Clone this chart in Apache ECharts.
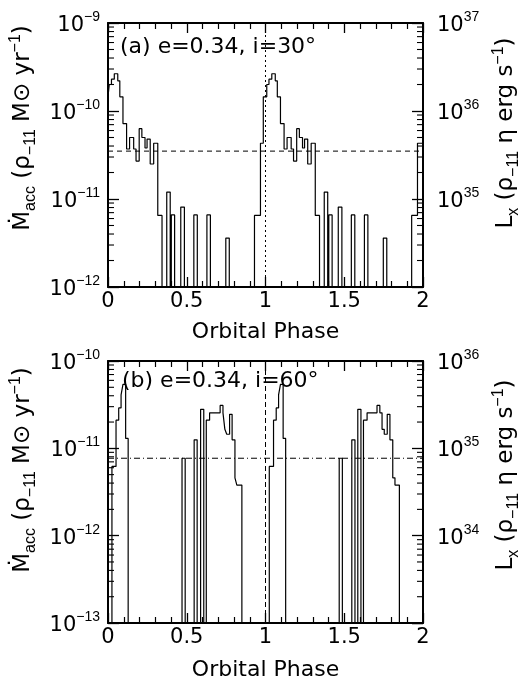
<!DOCTYPE html>
<html><head><meta charset="utf-8">
<script src="https://cdn.jsdelivr.net/npm/echarts@6/dist/echarts.min.js"></script>
<style>html,body{margin:0;padding:0;background:#fff}#c{width:520px;height:681px}</style>
</head><body><div id="c"></div>
<script>
// ---------- data ----------
// panel (a): histogram bin start phase and accretion rate (Msun/yr per rho_-11); 0 = empty bin
const phaseA = [
  0.000, 0.008, 0.022, 0.040, 0.062, 0.075, 0.095, 0.118, 0.137, 0.163, 0.178, 0.198, 0.215, 0.235, 0.248, 0.268, 0.290, 0.316, 0.343,
  0.373, 0.395, 0.402, 0.423, 0.462, 0.485, 0.545, 0.567, 0.628, 0.650, 0.748, 0.770,
  0.930, 0.968, 0.986,
  1.008, 1.022, 1.040, 1.062, 1.075, 1.095, 1.118, 1.137, 1.163, 1.178, 1.198, 1.215, 1.235, 1.248, 1.268, 1.290, 1.316, 1.343,
  1.373, 1.395, 1.402, 1.423, 1.462, 1.485, 1.545, 1.567, 1.628, 1.650, 1.748, 1.770,
  1.928, 1.965, 2.000
];
const mdotA = [
  1.45e-10, 2.0e-10, 2.3e-10, 2.65e-10, 2.2e-10, 1.45e-10, 7.2e-11, 3.7e-11, 5.0e-11, 3.7e-11, 2.7e-11, 6.3e-11, 5.0e-11, 3.8e-11, 4.8e-11, 2.5e-11, 4.3e-11, 6.5e-12, 0,
  1.2e-11, 0, 6.6e-12, 0, 8.1e-12, 0, 6.6e-12, 0, 6.6e-12, 0, 3.6e-12, 0,
  6.5e-12, 4.3e-11, 1.45e-10,
  2.0e-10, 2.3e-10, 2.65e-10, 2.2e-10, 1.45e-10, 7.2e-11, 3.7e-11, 5.0e-11, 3.7e-11, 2.7e-11, 6.3e-11, 5.0e-11, 3.8e-11, 4.8e-11, 2.5e-11, 4.3e-11, 6.5e-12, 0,
  1.2e-11, 0, 6.6e-12, 0, 8.1e-12, 0, 6.6e-12, 0, 6.6e-12, 0, 3.6e-12, 0,
  6.5e-12, 4.3e-11, 4.3e-11
];
// panel (b)
const phaseB = [
  0.000, 0.025, 0.051, 0.068, 0.083, 0.095, 0.112, 0.128,
  0.470, 0.490, 0.547, 0.566, 0.588, 0.608, 0.624, 0.645, 0.712, 0.730, 0.742, 0.754, 0.772, 0.788, 0.806, 0.818, 0.850,
  1.024, 1.051, 1.068, 1.083, 1.095, 1.112, 1.128,
  1.468, 1.488, 1.548, 1.568, 1.586, 1.606, 1.622, 1.645, 1.708, 1.726, 1.740, 1.754, 1.773, 1.790, 1.808, 1.822, 1.850,
  2.000
];
const mdotB = [
  0, 6.2e-12, 2.1e-11, 2.9e-11, 4.1e-11, 5.4e-11, 1.3e-11, 0,
  7.7e-12, 0, 1.25e-11, 0, 2.8e-11, 0, 2.1e-11, 2.55e-11, 3.1e-11, 2.55e-11, 1.65e-11, 1.45e-11, 2.45e-11, 1.25e-11, 4.6e-12, 3.8e-12, 0,
  6.2e-12, 2.1e-11, 2.9e-11, 4.1e-11, 5.4e-11, 1.3e-11, 0,
  7.7e-12, 0, 1.25e-11, 0, 2.8e-11, 0, 2.1e-11, 2.55e-11, 3.1e-11, 2.55e-11, 1.65e-11, 1.45e-11, 2.45e-11, 1.25e-11, 4.6e-12, 3.8e-12, 0,
  0
];
const meanA = 3.5e-11;
const meanB = 7.7e-12;
const periastron = 1;
const phaseRange = [0, 2];
const leftRangeA = [1e-12, 1e-9], rightRangeA = [1e34, 1e37];
const leftRangeB = [1e-13, 1e-10], rightRangeB = [1e33, 1e36];
const titleA = '(a) e=0.34, i=30°';
const titleB = '(b) e=0.34, i=60°';
const xName = 'Orbital Phase';

// ---------- drawing ----------
const FONT = '"DejaVu Sans"';
const TINY = 1e-40; // empty bins fall below the axis and are clipped
function steps(ph, v) { return ph.map((p, i) => [p, v[i] > 0 ? v[i] : TINY]); }
function minorVals(range) {
  const out = [];
  const lo = Math.round(Math.log10(range[0])), hi = Math.round(Math.log10(range[1]));
  for (let e = lo; e < hi; e++) for (let m = 2; m <= 9; m++) out.push([0, m * Math.pow(10, e)]);
  return out;
}
function powLabel(v) {
  const e = Math.round(Math.log10(v));
  return '{b|10}{s|' + (e < 0 ? '\u2212' + (-e) : e) + '}';
}
const labelRich = {
  b: { fontSize: 21, fontFamily: FONT, color: '#000', lineHeight: 26, verticalAlign: 'bottom' },
  s: { fontSize: 14, fontFamily: '"Liberation Sans"', color: '#000', lineHeight: 14, verticalAlign: 'top' }
};
const nameRich = {
  m: { fontSize: 23, fontFamily: FONT, color: '#000', lineHeight: 31, verticalAlign: 'middle' },
  sub: { fontSize: 16, fontFamily: '"Liberation Sans"', color: '#000', verticalAlign: 'bottom' },
  sup: { fontSize: 16, fontFamily: '"Liberation Sans"', color: '#000', verticalAlign: 'top' }
};
const leftName = '{m|\u1E40}{sub|acc}{m| (\u03C1}{sub|\u221211}{m| M\u2299 yr}{sup|\u22121}{m|)}';
const rightName = '{m|L}{sub|x}{m| (\u03C1}{sub|\u221211}{m| \u03B7 erg s}{sup|\u22121}{m|)}';

function axisLine() { return { show: true, onZero: false, lineStyle: { color: '#000', width: 2 } }; }

function xAxisPair(gi, gap) {
  const mk = () => ({
    type: 'value', gridIndex: gi, min: phaseRange[0], max: phaseRange[1], interval: 0.5,
    axisLine: axisLine(),
    axisTick: { show: true, inside: true, length: 10, lineStyle: { color: '#000', width: 1.3 } },
    minorTick: { show: true, splitNumber: 5, length: 6, lineStyle: { color: '#000', width: 1.2 } },
    splitLine: { show: false }, minorSplitLine: { show: false }
  });
  return [
    Object.assign(mk(), {
      position: 'bottom',
      axisLabel: { color: '#000', fontSize: 21, fontFamily: FONT, margin: 4 },
      name: xName, nameLocation: 'middle', nameGap: gap,
      nameTextStyle: { color: '#000', fontSize: 22, fontFamily: FONT }
    }),
    Object.assign(mk(), { position: 'top', axisLabel: { show: false } })
  ];
}
function yAxisPair(gi, lr, rr, lpad, rpad) {
  const mk = () => ({
    type: 'log', logBase: 10, gridIndex: gi,
    axisLine: axisLine(),
    axisTick: { show: true, inside: true, length: 11, lineStyle: { color: '#000', width: 1.3 } },
    splitLine: { show: false },
    nameLocation: 'middle', nameRotate: 90
  });
  return [
    Object.assign(mk(), {
      position: 'left', min: lr[0], max: lr[1],
      axisLabel: { formatter: powLabel, rich: labelRich, margin: 8 },
      name: leftName, nameGap: 54,
      nameTextStyle: { rich: nameRich, padding: [0, 0, 0, lpad] }
    }),
    Object.assign(mk(), {
      position: 'right', min: rr[0], max: rr[1],
      axisLabel: { formatter: v => (Math.log10(v) < Math.log10(rr[0]) + 0.5 ? '' : powLabel(v)), rich: labelRich, margin: 14 },
      name: rightName, nameGap: 64,
      nameTextStyle: { rich: nameRich, padding: [0, 0, 0, rpad] }
    })
  ];
}
function tickSeries(xi, yi, range, side) {
  return {
    type: 'custom', xAxisIndex: xi, yAxisIndex: yi, data: minorVals(range), clip: false,
    encode: { x: 0, y: 1 },
    renderItem(params, api) {
      const cs = params.coordSys;
      const y = api.coord([0, api.value(1)])[1];
      const x0 = side === 'left' ? cs.x : cs.x + cs.width;
      const dx = side === 'left' ? 6 : -6;
      return { type: 'line', shape: { x1: x0, y1: y, x2: x0 + dx, y2: y }, style: { stroke: '#000', lineWidth: 1.1 } };
    }
  };
}
function histSeries(xi, yi, ph, v) {
  return {
    type: 'line', xAxisIndex: xi, yAxisIndex: yi, data: steps(ph, v), step: 'end',
    showSymbol: false, symbol: 'none', clip: true,
    lineStyle: { color: '#000', width: 1.2 }
  };
}
function refLine(xi, yi, pts, dash) {
  return {
    type: 'line', xAxisIndex: xi, yAxisIndex: yi, data: pts, showSymbol: false, symbol: 'none', clip: true,
    lineStyle: { color: '#000', width: 1, type: dash }
  };
}

const chart = echarts.init(document.getElementById('c'));
chart.setOption({
  animation: false,
  backgroundColor: '#fff',
  grid: [
    { left: 108, top: 23, width: 315, height: 264, outerBoundsMode: 'none' },
    { left: 108, top: 361, width: 315, height: 262, outerBoundsMode: 'none' }
  ],
  xAxis: [].concat(xAxisPair(0, 34), xAxisPair(1, 36)),
  yAxis: [].concat(yAxisPair(0, leftRangeA, rightRangeA, 54, 44), yAxisPair(1, leftRangeB, rightRangeB, 44, 34)),
  graphic: [
    { type: 'text', left: 120, top: 36, style: { text: titleA, font: '22px ' + FONT, fill: '#000' } },
    { type: 'text', left: 122, top: 370, style: { text: titleB, font: '22px ' + FONT, fill: '#000' } }
  ],
  series: [
    histSeries(0, 0, phaseA, mdotA),
    refLine(0, 0, [[phaseRange[0], meanA], [phaseRange[1], meanA]], [5, 4]),
    refLine(0, 0, [[periastron, leftRangeA[0]], [periastron, leftRangeA[1]]], [2, 3]),
    histSeries(2, 2, phaseB, mdotB),
    refLine(2, 2, [[phaseRange[0], meanB], [phaseRange[1], meanB]], [6, 3, 1, 3]),
    refLine(2, 2, [[periastron, leftRangeB[0]], [periastron, leftRangeB[1]]], [5, 3]),
    tickSeries(0, 0, leftRangeA, 'left'),
    tickSeries(0, 1, rightRangeA, 'right'),
    tickSeries(2, 2, leftRangeB, 'left'),
    tickSeries(2, 3, rightRangeB, 'right')
  ]
});
</script></body></html>
